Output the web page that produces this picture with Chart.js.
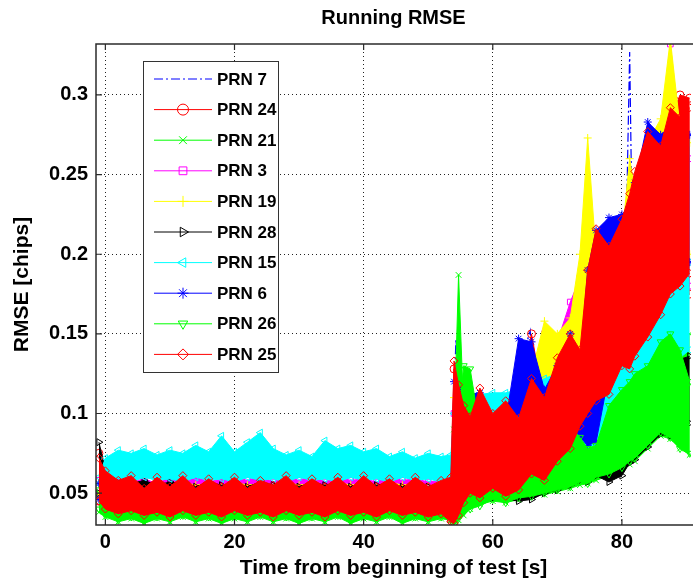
<!DOCTYPE html>
<html>
<head>
<meta charset="utf-8">
<title>Running RMSE</title>
<script src="https://cdn.jsdelivr.net/npm/chart.js@4.4.1/dist/chart.umd.min.js"></script>
<style>
  body { margin: 0; background: #fff; }
</style>
</head>
<body>
<canvas id="rmseChart" width="696" height="581"></canvas>
<script>
// time grid shared by the banded series [s]
const timeS = [-1,0,2,4,6,8,10,12,14,16,18,20,22,24,26,28,30,32,34,36,38,40,42,44,46,48,50,52,53.5,
  54,54.7,55.5,56.5,58,60,62,64,66,68,70,72,73.5,74.7,76,78,80,81.2,82,84,86,87.5,89,90.5];

// PRN 7 is a single dash-dot trace
const prn7Time = [-1,2,6,10,14,18,22,26,30,34,38,42,46,50,53.5,54.3,55,58,62,65.8,66.5,70,74,78,80.6,81.2,81.6,83,86,90.5];
const prn7Rmse = [.05,.048,.052,.049,.051,.048,.052,.05,.049,.052,.048,.051,.049,.05,.052,.147,.10,.095,.10,.152,.11,.12,.15,.17,.20,.327,.21,.22,.25,.26];

// the other PRNs: lower / upper edge of the noisy RMSE band
const prn24Lo = [.045,.041,.038,.040,.037,.039,.036,.040,.037,.039,.036,.040,.037,.039,.036,.040,.037,.039,.036,.040,.037,.039,.036,.040,.037,.039,.036,.038,.034,
  .032,.036,.042,.048,.046,.050,.047,.050,.058,.056,.066,.075,.085,.095,.100,.105,.120,.120,.130,.140,.155,.165,.170,.175];
const prn24Hi = [.075,.058,.054,.057,.053,.056,.054,.058,.053,.056,.054,.057,.053,.055,.054,.058,.053,.056,.054,.057,.053,.058,.054,.056,.053,.057,.054,.055,.057,
  .128,.115,.102,.096,.108,.098,.104,.112,.150,.105,.125,.145,.160,.190,.210,.200,.215,.230,.245,.270,.275,.285,.300,.298];

const prn21Lo = [.038,.035,.032,.034,.031,.034,.032,.035,.032,.034,.031,.034,.032,.035,.032,.034,.031,.034,.032,.035,.031,.034,.032,.035,.031,.034,.032,.034,.033,
  .030,.033,.036,.040,.043,.045,.044,.046,.048,.049,.051,.053,.055,.056,.058,.061,.065,.068,.070,.078,.086,.084,.078,.074];
const prn21Hi = [.050,.052,.050,.053,.051,.052,.050,.053,.051,.052,.050,.053,.051,.052,.050,.053,.051,.052,.050,.053,.051,.052,.050,.053,.051,.052,.050,.052,.053,
  .090,.187,.100,.095,.090,.082,.086,.078,.088,.082,.090,.095,.090,.085,.090,.110,.120,.125,.130,.140,.152,.158,.155,.150];

const prn3Lo = [.048,.047,.046,.048,.046,.047,.045,.048,.046,.047,.045,.048,.046,.047,.045,.048,.046,.047,.045,.048,.046,.047,.045,.048,.046,.047,.045,.046,.045,
  .045,.050,.055,.060,.065,.070,.070,.075,.080,.085,.090,.100,.110,.110,.120,.130,.140,.150,.155,.160,.170,.180,.180,.180];
const prn3Hi = [.058,.059,.060,.057,.059,.056,.060,.058,.061,.057,.059,.060,.058,.061,.057,.060,.058,.061,.057,.060,.058,.059,.057,.060,.058,.059,.057,.058,.060,
  .100,.095,.090,.090,.095,.090,.095,.100,.120,.150,.145,.170,.185,.180,.170,.180,.200,.210,.220,.250,.270,.332,.270,.260];

const prn19Lo = [.049,.049,.048,.050,.048,.049,.047,.050,.048,.049,.047,.050,.048,.049,.047,.050,.048,.049,.047,.050,.048,.049,.047,.050,.048,.049,.047,.049,.048,
  .050,.055,.060,.065,.070,.075,.075,.080,.085,.090,.100,.110,.105,.100,.110,.130,.150,.160,.170,.180,.190,.200,.200,.200];
const prn19Hi = [.056,.056,.055,.057,.055,.056,.054,.057,.055,.056,.054,.057,.055,.056,.054,.057,.055,.056,.054,.057,.055,.056,.054,.057,.055,.056,.054,.056,.057,
  .110,.100,.100,.100,.100,.098,.100,.110,.125,.158,.150,.160,.200,.273,.200,.190,.210,.260,.240,.270,.285,.335,.280,.270];

const prn28Lo = [.050,.049,.048,.049,.047,.048,.047,.049,.047,.048,.047,.049,.047,.048,.047,.049,.047,.048,.047,.049,.047,.048,.047,.049,.047,.048,.047,.048,.047,
  .040,.042,.044,.045,.046,.047,.046,.045,.046,.050,.052,.055,.058,.057,.061,.057,.061,.069,.071,.079,.087,.086,.088,.094];
const prn28Hi = [.082,.065,.058,.056,.058,.055,.057,.056,.054,.057,.055,.056,.054,.057,.055,.056,.054,.057,.055,.056,.054,.057,.055,.056,.054,.055,.054,.056,.058,
  .065,.070,.075,.078,.080,.075,.078,.072,.080,.076,.082,.088,.090,.085,.088,.100,.110,.115,.118,.122,.130,.132,.134,.136];

const prn15Lo = [.056,.058,.059,.057,.060,.058,.059,.057,.060,.058,.059,.057,.060,.058,.059,.057,.060,.058,.059,.057,.060,.058,.059,.057,.060,.058,.059,.057,.058,
  .060,.070,.075,.080,.085,.088,.088,.090,.092,.095,.095,.090,.075,.065,.070,.085,.095,.100,.105,.110,.120,.130,.135,.140];
const prn15Hi = [.060,.072,.077,.075,.078,.074,.077,.075,.080,.076,.086,.076,.082,.088,.078,.074,.077,.073,.083,.078,.080,.076,.078,.073,.076,.072,.075,.073,.074,
  .100,.105,.110,.110,.112,.113,.113,.115,.118,.122,.125,.130,.135,.140,.140,.150,.160,.165,.170,.180,.190,.195,.200,.195];

const prn6Lo = [.046,.045,.044,.045,.043,.044,.043,.045,.043,.044,.043,.045,.043,.044,.043,.045,.043,.044,.043,.045,.043,.044,.043,.045,.043,.044,.043,.044,.045,
  .050,.060,.070,.090,.093,.085,.085,.100,.100,.095,.100,.095,.085,.080,.082,.125,.135,.135,.140,.160,.175,.185,.190,.195];
const prn6Hi = [.056,.054,.052,.054,.051,.053,.052,.054,.051,.053,.052,.054,.051,.053,.052,.054,.051,.053,.052,.054,.051,.053,.052,.054,.051,.053,.052,.053,.054,
  .120,.115,.110,.112,.113,.095,.095,.147,.145,.115,.130,.150,.130,.190,.215,.223,.225,.230,.245,.283,.275,.280,.270,.275];

const prn26Lo = [.040,.036,.033,.035,.032,.035,.033,.036,.033,.035,.032,.035,.033,.036,.033,.035,.032,.035,.033,.036,.032,.035,.033,.036,.032,.035,.033,.035,.034,
  .030,.034,.038,.040,.042,.046,.044,.047,.048,.050,.052,.054,.057,.056,.060,.062,.066,.070,.072,.080,.088,.085,.078,.075];
const prn26Hi = [.052,.050,.049,.051,.048,.050,.049,.051,.048,.050,.049,.051,.048,.050,.049,.051,.048,.050,.049,.051,.048,.050,.049,.051,.048,.050,.049,.050,.052,
  .060,.095,.130,.128,.090,.080,.085,.075,.085,.080,.088,.092,.085,.078,.080,.105,.115,.120,.125,.130,.145,.150,.140,.120];

const prn25Lo = [.045,.040,.037,.039,.036,.038,.035,.039,.036,.038,.035,.039,.036,.038,.035,.039,.036,.038,.035,.039,.036,.038,.035,.039,.036,.038,.035,.037,.032,
  .031,.036,.044,.050,.047,.053,.048,.052,.062,.058,.070,.078,.092,.100,.108,.112,.130,.128,.136,.148,.162,.175,.180,.188];
const prn25Hi = [.072,.064,.058,.061,.053,.060,.054,.061,.053,.059,.054,.060,.053,.058,.055,.061,.053,.059,.054,.060,.053,.061,.054,.059,.053,.060,.054,.058,.060,
  .133,.118,.105,.098,.116,.100,.108,.097,.122,.110,.135,.150,.140,.190,.216,.205,.222,.238,.252,.277,.268,.292,.286,.292];

const prnLabels = ['PRN 7','PRN 24','PRN 21','PRN 3','PRN 19','PRN 28','PRN 15','PRN 6','PRN 26','PRN 25'];
const bandLo = [prn24Lo, prn21Lo, prn3Lo, prn19Lo, prn28Lo, prn15Lo, prn6Lo, prn26Lo, prn25Lo];
const bandHi = [prn24Hi, prn21Hi, prn3Hi, prn19Hi, prn28Hi, prn15Hi, prn6Hi, prn26Hi, prn25Hi];

// MATLAB-ish line specs
const prnColors = ['#0000ff','#ff0000','#00ff00','#ff00ff','#ffff00','#000000','#00ffff','#0000ff','#00ff00','#ff0000'];
const prnMarkers = [false,'circle','crossRot','rect','cross','triangle','triangle','star','triangle','rectRot'];
const prnRotation = [0,0,0,0,0,90,-90,0,180,0];
const dashDot = [9,3,2,3];

const FONT = "'Liberation Sans', Arial, Helvetica, sans-serif";
Chart.defaults.font.family = FONT;
Chart.defaults.color = '#000';

const toPoints = (xs, ys) => xs.map((t, i) => ({x: t, y: ys[i]}));

const datasets = [{
  label: prnLabels[0],
  data: toPoints(prn7Time, prn7Rmse),
  borderColor: prnColors[0],
  borderWidth: 1.2,
  borderDash: dashDot,
  pointRadius: 0,
  fill: false,
  order: 30
}];

bandLo.forEach((lo, k) => {
  const s = k + 1;
  const common = {
    borderColor: prnColors[s],
    borderWidth: 1,
    pointStyle: prnMarkers[s],
    pointRotation: prnRotation[s],
    pointRadius: 4,
    pointBorderWidth: 1,
    pointBorderColor: prnColors[s],
    pointBackgroundColor: 'rgba(0,0,0,0)',
    order: 20 - k   // later PRNs end up on top, like MATLAB's plot order
  };
  datasets.push({...common, label: prnLabels[s] + ' low', data: toPoints(timeS, lo), fill: false});
  datasets.push({...common, label: prnLabels[s], data: toPoints(timeS, bandHi[k]), fill: '-1', backgroundColor: prnColors[s]});
});

function marker(ctx, style, rotation, radius, x, y) {
  if (!style) return;
  if (Chart.helpers && Chart.helpers.drawPoint) {
    Chart.helpers.drawPoint(ctx, {pointStyle: style, rotation: rotation, radius: radius, borderWidth: 1}, x, y);
  } else {
    ctx.beginPath(); ctx.arc(x, y, radius, 0, Math.PI * 2); ctx.stroke();
  }
}

// title, axes box with inward ticks and the boxed legend
const matlabFrame = {
  id: 'matlabFrame',
  afterDraw(chart) {
    const {ctx, chartArea: a, scales} = chart;
    ctx.save();
    ctx.fillStyle = '#000';
    ctx.font = 'bold 20px ' + FONT;
    ctx.textAlign = 'center';
    ctx.textBaseline = 'middle';
    ctx.fillText('Running RMSE', (a.left + a.right) / 2, 18);

    ctx.strokeStyle = '#2b2b2b';
    ctx.lineWidth = 1.5;
    ctx.beginPath();
    ctx.moveTo(a.right + 2, a.top); ctx.lineTo(a.left, a.top);
    ctx.lineTo(a.left, a.bottom); ctx.lineTo(a.right + 2, a.bottom);
    ctx.stroke();
    ctx.lineWidth = 1.2;
    ctx.beginPath();
    scales.x.ticks.forEach(t => {
      const px = scales.x.getPixelForValue(t.value);
      ctx.moveTo(px, a.top); ctx.lineTo(px, a.top + 6);
      ctx.moveTo(px, a.bottom); ctx.lineTo(px, a.bottom - 6);
    });
    scales.y.ticks.forEach(t => {
      const py = scales.y.getPixelForValue(t.value);
      ctx.moveTo(a.left, py); ctx.lineTo(a.left + 6, py);
    });
    ctx.stroke();

    // legend
    const bx = 143, by = 61, bw = 135, bh = 311, rowH = 30.6;
    ctx.fillStyle = '#fff';
    ctx.fillRect(bx, by, bw, bh);
    ctx.strokeStyle = '#333';
    ctx.lineWidth = 1;
    ctx.strokeRect(bx + 0.5, by + 0.5, bw, bh);
    ctx.font = 'bold 17px ' + FONT;
    ctx.textAlign = 'left';
    prnLabels.forEach((lab, i) => {
      const y = by + 18 + i * rowH;
      ctx.strokeStyle = prnColors[i];
      ctx.lineWidth = 1;
      ctx.setLineDash(i === 0 ? dashDot : []);
      ctx.beginPath(); ctx.moveTo(154, y); ctx.lineTo(212, y); ctx.stroke();
      ctx.setLineDash([]);
      ctx.fillStyle = 'rgba(0,0,0,0)';
      marker(ctx, prnMarkers[i], prnRotation[i], 5.5, 183, y);
      ctx.fillStyle = '#000';
      ctx.fillText(lab, 217, y + 1);
    });
    ctx.restore();
  }
};

new Chart(document.getElementById('rmseChart'), {
  type: 'line',
  data: { datasets },
  options: {
    responsive: false,
    animation: false,
    events: [],
    layout: { padding: { top: 44, right: 0, left: 0, bottom: 0 } },
    plugins: { legend: { display: false }, title: { display: false }, tooltip: { enabled: false } },
    scales: {
      x: {
        type: 'linear',
        min: -1.45,
        max: 90.7,
        afterFit(scale) { scale.height = 56; },
        ticks: { stepSize: 20, includeBounds: false, padding: 5, font: { size: 20, weight: 'bold' }, maxRotation: 0 },
        grid: { color: '#222', lineWidth: 1, drawTicks: false },
        border: { display: false, dash: [1, 3] },
        title: { display: true, text: 'Time from beginning of test [s]', font: { size: 21, weight: 'bold' }, padding: { top: 0, bottom: 0 } }
      },
      y: {
        type: 'linear',
        min: 0.03,
        max: 0.332,
        afterFit(scale) { scale.width = 96; },
        ticks: {
          stepSize: 0.05, includeBounds: false, padding: 8, font: { size: 20, weight: 'bold' },
          callback: v => String(Number(v.toFixed(2)))
        },
        grid: { color: '#222', lineWidth: 1, drawTicks: false },
        border: { display: false, dash: [1, 3] },
        title: { display: true, text: 'RMSE [chips]', font: { size: 21, weight: 'bold' }, padding: { top: 10, bottom: 0 } }
      }
    }
  },
  plugins: [matlabFrame]
});
</script>
</body>
</html>
